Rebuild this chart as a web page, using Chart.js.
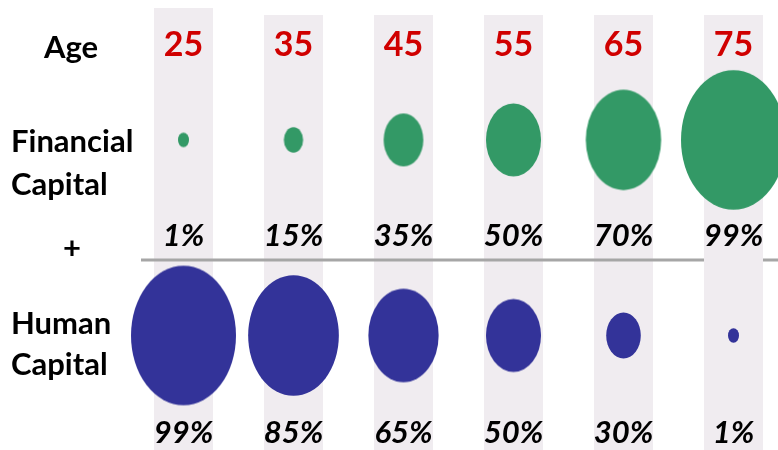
<!DOCTYPE html>
<html>
<head>
<meta charset="utf-8">
<script src="https://cdn.jsdelivr.net/npm/chart.js@4/dist/chart.umd.min.js"></script>
<style>
  html, body { margin: 0; padding: 0; background: #fff; }
  canvas { display: block; }
</style>
</head>
<body>
<canvas id="myChart" width="778" height="450"></canvas>
<script>
const ages = [25, 35, 45, 55, 65, 75];
const financialPct = [1, 15, 35, 50, 70, 99];
const humanPct = [99, 85, 65, 50, 30, 1];

const GREEN = '#339966';
const BLUE = '#333399';
const BAND = '#f0ecf0';
const RED = '#d00000';
const FONT = 'Lato, "Open Sans", sans-serif';

// ellipse sprite for a percentage value (width grows with the value)
const spriteCache = {};
function ellipseFor(value, color) {
  const key = color + value;
  if (spriteCache[key]) return spriteCache[key];
  const w = Math.max(11, 4 + value * 1.02);
  const h = w * 1.33;
  const c = document.createElement('canvas');
  c.width = Math.ceil(w) + 2;
  c.height = Math.ceil(h) + 2;
  const g = c.getContext('2d');
  g.fillStyle = color;
  g.beginPath();
  g.ellipse(c.width / 2, c.height / 2, w / 2, h / 2, 0, 0, Math.PI * 2);
  g.fill();
  spriteCache[key] = c;
  return c;
}

const panel = {
  id: 'panel',
  beforeDatasetsDraw(chart) {
    const ctx = chart.ctx;
    const x = chart.scales.x;
    ctx.save();
    ctx.fillStyle = BAND;
    const bandW = 59;
    ages.forEach((a, i) => {
      const cx = x.getPixelForValue(a);
      ctx.fillRect(cx - bandW / 2, i === 0 ? 8 : 15, bandW, 450);
    });
    // divider between the two rows
    const lastX = x.getPixelForValue(ages[ages.length - 1]);
    ctx.strokeStyle = '#a6a6a6';
    ctx.lineWidth = 3;
    ctx.beginPath();
    ctx.moveTo(141, 260);
    ctx.lineTo(lastX - bandW / 2, 260);
    ctx.moveTo(lastX + bandW / 2, 260);
    ctx.lineTo(778, 260);
    ctx.stroke();
    ctx.restore();
  },
  afterDatasetsDraw(chart) {
    const ctx = chart.ctx;
    const x = chart.scales.x;
    const y = chart.scales.y;
    const fin = y.getPixelForValue(1);
    const hum = y.getPixelForValue(2);
    ctx.save();
    ctx.textBaseline = 'alphabetic';

    // row titles
    ctx.fillStyle = '#000';
    ctx.font = 'bold 31px ' + FONT;
    ctx.textAlign = 'center';
    ctx.fillText('Age', 71, fin - 82);
    ctx.fillText('+', 72, fin + 119);
    ctx.textAlign = 'left';
    ctx.fillText('Financial', 11, fin + 12);
    ctx.fillText('Capital', 11, fin + 55);
    ctx.fillText('Human', 11, hum - 1);
    ctx.fillText('Capital', 11, hum + 40);

    // ages
    ctx.textAlign = 'center';
    ctx.fillStyle = RED;
    ctx.font = 'bold 34px ' + FONT;
    ages.forEach(a => ctx.fillText(String(a), x.getPixelForValue(a), fin - 84));

    // percentages
    ctx.fillStyle = '#000';
    ctx.font = 'italic bold 31px ' + FONT;
    ages.forEach((a, i) => {
      const cx = x.getPixelForValue(a);
      ctx.fillText(financialPct[i] + '%', cx, fin + 106);
      ctx.fillText(humanPct[i] + '%', cx, hum + 108);
    });
    ctx.restore();
  }
};

new Chart(document.getElementById('myChart'), {
  type: 'scatter',
  data: {
    datasets: [
      {
        label: 'Financial Capital',
        data: ages.map(a => ({ x: a, y: 1 })),
        pointStyle: c => ellipseFor(financialPct[c.dataIndex], GREEN),
        clip: false
      },
      {
        label: 'Human Capital',
        data: ages.map(a => ({ x: a, y: 2 })),
        pointStyle: c => ellipseFor(humanPct[c.dataIndex], BLUE),
        clip: false
      }
    ]
  },
  options: {
    responsive: false,
    devicePixelRatio: 1,
    animation: false,
    layout: { padding: { left: 183.5, right: 44.5, top: 0, bottom: 0 } },
    scales: {
      x: { type: 'linear', min: 25, max: 75, display: false },
      y: { type: 'linear', min: 0.31, max: 2.56, reverse: true, display: false }
    },
    plugins: {
      legend: { display: false },
      tooltip: { enabled: false }
    }
  },
  plugins: [panel]
});
</script>
</body>
</html>
